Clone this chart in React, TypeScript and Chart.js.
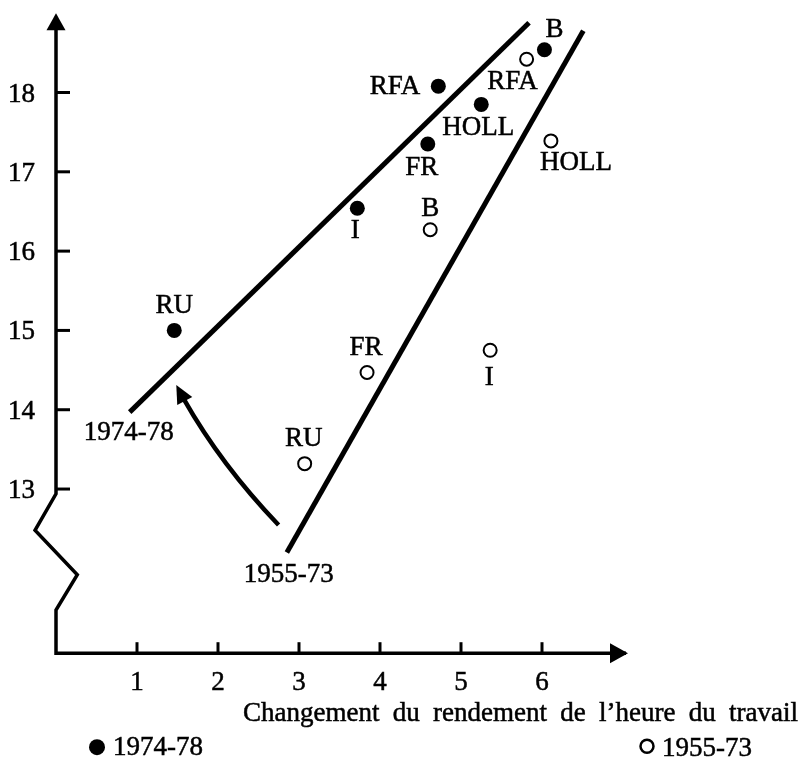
import React, { useEffect, useRef } from "react";
import { Chart, registerables } from "chart.js";

Chart.register(...registerables);

// ---------- data ----------
const xTickValues = [1, 2, 3, 4, 5, 6];
const yTickValues = [13, 14, 15, 16, 17, 18];

const seriesNames = ["1974-78", "1955-73"];

const countries7478 = ["RU", "I", "FR", "RFA", "HOLL", "B"];
const x7478 = [1.46, 3.72, 4.59, 4.72, 5.25, 6.03];
const y7478 = [15.0, 16.54, 17.35, 18.08, 17.85, 18.54];

const countries5573 = ["RU", "FR", "I", "B", "RFA", "HOLL"];
const x5573 = [3.07, 3.84, 5.36, 4.62, 5.81, 6.11];
const y5573 = [13.32, 14.47, 14.75, 16.27, 18.42, 17.39];

const trend7478X = [0.91, 5.84];
const trend7478Y = [13.97, 18.88];
const trend5573X = [2.85, 6.51];
const trend5573Y = [12.2, 18.78];

// curved shift arrow: start, control, tip
const shiftArrowX = [2.748, 1.979, 1.485];
const shiftArrowY = [12.546, 13.366, 14.311];

// broken y-axis (zigzag) in data units
const axisBreakX = [0, -0.259, 0.263, 0];
const axisBreakY = [12.94, 12.48, 11.92, 11.475];

const xAxisTitle = "Changement du rendement de l\u2019heure du travail";

// ---------- label placement (pixel offsets, style only) ----------
const FONT = "27px 'Liberation Serif', 'Times New Roman', serif";
const place7478: Record<string, [number, number, CanvasTextAlign]> = {
  RU: [0, -25, "center"],
  I: [-2, 23, "center"],
  FR: [-6, 24, "center"],
  RFA: [-18, 1, "right"],
  HOLL: [-3, 24, "center"],
  B: [10, -20, "center"],
};
const place5573: Record<string, [number, number, CanvasTextAlign]> = {
  RU: [-1, -25, "center"],
  FR: [-1, -25, "center"],
  I: [-1, 28, "center"],
  B: [0, -21, "center"],
  RFA: [-14, 23, "center"],
  HOLL: [25, 22, "center"],
};

function text(ctx: CanvasRenderingContext2D, s: string, x: number, y: number) {
  ctx.fillText(s, x, y);
  ctx.strokeText(s, x, y);
}

const decorPlugin = {
  id: "decor",
  afterDraw(chart: any) {
    const ctx: CanvasRenderingContext2D = chart.ctx;
    const xs = chart.scales.x;
    const ys = chart.scales.y;
    const px = (v: number) => xs.getPixelForValue(v);
    const py = (v: number) => ys.getPixelForValue(v);
    const x0 = px(0);
    const yBottom = py(ys.min);
    ctx.save();
    ctx.strokeStyle = "#000";
    ctx.fillStyle = "#000";
    ctx.lineJoin = "miter";

    // y axis with break
    const yTop = py(ys.max);
    ctx.lineWidth = 3.5;
    ctx.beginPath();
    ctx.moveTo(x0, yTop + 12);
    for (let i = 0; i < axisBreakX.length; i++) {
      ctx.lineTo(px(axisBreakX[i]), py(axisBreakY[i]));
    }
    ctx.lineTo(x0, yBottom);
    ctx.lineTo(px(xs.max) + 3, yBottom);
    ctx.stroke();

    // arrowheads
    ctx.beginPath();
    ctx.moveTo(x0, yTop);
    ctx.lineTo(x0 - 9.5, yTop + 17);
    ctx.lineTo(x0 + 9.5, yTop + 17);
    ctx.closePath();
    ctx.fill();
    const xEnd = px(xs.max) + 5;
    ctx.beginPath();
    ctx.moveTo(xEnd, yBottom);
    ctx.lineTo(xEnd - 18, yBottom - 10);
    ctx.lineTo(xEnd - 18, yBottom + 10);
    ctx.closePath();
    ctx.fill();

    // ticks
    ctx.lineWidth = 3;
    yTickValues.forEach((v) => {
      const y = py(v);
      ctx.beginPath();
      ctx.moveTo(x0, y);
      ctx.lineTo(x0 + 14, y);
      ctx.stroke();
    });
    xTickValues.forEach((v) => {
      const x = px(v);
      ctx.beginPath();
      ctx.moveTo(x, yBottom);
      ctx.lineTo(x, yBottom - 11);
      ctx.stroke();
    });

    // curved arrow
    const P0 = { x: px(shiftArrowX[0]), y: py(shiftArrowY[0]) };
    const C = { x: px(shiftArrowX[1]), y: py(shiftArrowY[1]) };
    const T = { x: px(shiftArrowX[2]), y: py(shiftArrowY[2]) };
    let dx = T.x - C.x;
    let dy = T.y - C.y;
    const len = Math.hypot(dx, dy);
    dx /= len;
    dy /= len;
    const head = 18;
    const base = { x: T.x - dx * head, y: T.y - dy * head };
    const t = 0.92;
    const Q = { x: P0.x + (C.x - P0.x) * t, y: P0.y + (C.y - P0.y) * t };
    ctx.lineWidth = 4.5;
    ctx.lineCap = "butt";
    ctx.beginPath();
    ctx.moveTo(P0.x, P0.y);
    ctx.quadraticCurveTo(Q.x, Q.y, base.x + dx * 2, base.y + dy * 2);
    ctx.stroke();
    ctx.beginPath();
    ctx.moveTo(T.x, T.y);
    ctx.lineTo(base.x - dy * 8.5, base.y + dx * 8.5);
    ctx.lineTo(base.x + dy * 8.5, base.y - dx * 8.5);
    ctx.closePath();
    ctx.fill();

    // texts
    ctx.font = FONT;
    ctx.lineWidth = 0.5;
    ctx.textBaseline = "alphabetic";
    ctx.textAlign = "right";
    yTickValues.forEach((v) => text(ctx, String(v), x0 - 21, py(v) + 9));
    ctx.textAlign = "center";
    xTickValues.forEach((v) => text(ctx, String(v), px(v), yBottom + 37));

    // x axis title, justified between 243 and 798
    ctx.textAlign = "left";
    const words = xAxisTitle.split(" ");
    const wsum = words.reduce((s, w) => s + ctx.measureText(w).width, 0);
    const gap = (798 - 243 - wsum) / (words.length - 1);
    let cx = 243;
    words.forEach((w) => {
      text(ctx, w, cx, yBottom + 68);
      cx += ctx.measureText(w).width + gap;
    });

    // legend
    ctx.beginPath();
    ctx.arc(97, yBottom + 94, 8, 0, Math.PI * 2);
    ctx.fill();
    text(ctx, seriesNames[0], 113, yBottom + 102);
    ctx.lineWidth = 2.5;
    ctx.beginPath();
    ctx.arc(647, yBottom + 93, 6.5, 0, Math.PI * 2);
    ctx.stroke();
    ctx.lineWidth = 0.5;
    text(ctx, seriesNames[1], 662, yBottom + 103);

    // trend line labels
    ctx.textAlign = "center";
    text(ctx, seriesNames[0], px(trend7478X[0]) - 1, py(trend7478Y[0]) + 28);
    text(ctx, seriesNames[1], px(trend5573X[0]) + 2, py(trend5573Y[0]) + 30);

    // point labels
    ctx.textBaseline = "middle";
    const drawLabels = (dsIndex: number, names: string[], place: Record<string, [number, number, CanvasTextAlign]>) => {
      const meta = chart.getDatasetMeta(dsIndex);
      meta.data.forEach((el: any, i: number) => {
        const p = place[names[i]];
        ctx.textAlign = p[2];
        text(ctx, names[i], el.x + p[0], el.y + p[1]);
      });
    };
    drawLabels(0, countries7478, place7478);
    drawLabels(1, countries5573, place5573);

    ctx.restore();
  },
};

export default function App() {
  const ref = useRef<HTMLCanvasElement | null>(null);
  useEffect(() => {
    document.body.style.margin = "0";
    const canvas = ref.current;
    if (!canvas) return;
    const chart = new Chart(canvas, {
      type: "scatter",
      data: {
        datasets: [
          {
            type: "scatter",
            label: seriesNames[0],
            data: x7478.map((x, i) => ({ x, y: y7478[i] })),
            backgroundColor: "#000",
            borderColor: "#000",
            borderWidth: 0,
            pointRadius: 7.5,
            clip: false,
          },
          {
            type: "scatter",
            label: seriesNames[1],
            data: x5573.map((x, i) => ({ x, y: y5573[i] })),
            backgroundColor: "#fff",
            borderColor: "#000",
            borderWidth: 2,
            pointRadius: 6.5,
            clip: false,
          },
          {
            type: "line",
            label: "trend " + seriesNames[0],
            data: trend7478X.map((x, i) => ({ x, y: trend7478Y[i] })),
            borderColor: "#000",
            borderWidth: 5,
            pointRadius: 0,
            fill: false,
            clip: false,
          },
          {
            type: "line",
            label: "trend " + seriesNames[1],
            data: trend5573X.map((x, i) => ({ x, y: trend5573Y[i] })),
            borderColor: "#000",
            borderWidth: 5,
            pointRadius: 0,
            fill: false,
            clip: false,
          },
        ] as any,
      },
      options: {
        responsive: false,
        animation: false,
        layout: { padding: { left: 56, right: 183, top: 13.2, bottom: 105.8 } },
        plugins: { legend: { display: false }, tooltip: { enabled: false } },
        scales: {
          x: { type: "linear", min: 0, max: 7, display: false },
          y: { type: "linear", min: 10.93, max: 19, display: false },
        },
      },
      plugins: [decorPlugin],
    });
    return () => chart.destroy();
  }, []);
  return <canvas ref={ref} width={806} height={759} style={{ display: "block" }} />;
}
